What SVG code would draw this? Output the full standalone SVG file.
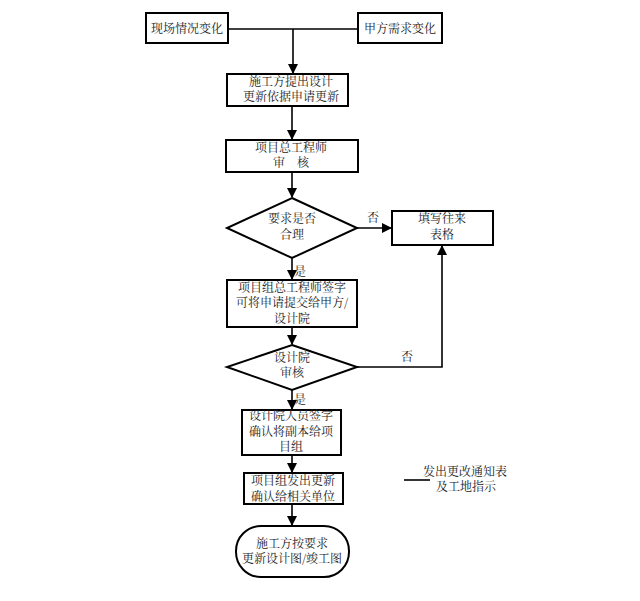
<svg xmlns="http://www.w3.org/2000/svg" width="640" height="601" viewBox="0 0 640 601">
<defs>
<marker id="ah" markerWidth="10" markerHeight="10" refX="9" refY="5" orient="auto" markerUnits="userSpaceOnUse">
<path d="M0,0 L10,5 L0,10 z" fill="#000"/>
</marker>
<style>
.n{fill:#fff;stroke:#000;stroke-width:2}
.c{fill:none;stroke:#000;stroke-width:1.6}
text{font-family:"Noto Serif CJK SC","Noto Sans CJK SC","Liberation Serif",serif;font-size:12px;fill:#222;text-anchor:middle}
</style>
</defs>
<rect width="640" height="601" fill="#fff"/>
<g id="connectors">
<path class="c" d="M228,29 H358"/>
<path class="c" d="M293,29 V73" marker-end="url(#ah)"/>
<path class="c" d="M292,106 V139" marker-end="url(#ah)"/>
<path class="c" d="M292,172 V197" marker-end="url(#ah)"/>
<path class="c" d="M357,228 H391" marker-end="url(#ah)"/>
<path class="c" d="M292,258 V279" marker-end="url(#ah)"/>
<path class="c" d="M292,327 V344" marker-end="url(#ah)"/>
<path class="c" d="M357,367 H442 V246" marker-end="url(#ah)"/>
<path class="c" d="M292,390 V409" marker-end="url(#ah)"/>
<path class="c" d="M292,455 V472" marker-end="url(#ah)"/>
<path class="c" d="M292,504 V525" marker-end="url(#ah)"/>
<text x="373" y="222">否</text>
<text x="300" y="276">是</text>
<text x="407" y="361">否</text>
<text x="300" y="404">是</text>
</g>
<g id="n1"><rect class="n" x="146" y="13" width="82" height="30"/><text x="187" y="33">现场情况变化</text></g>
<g id="n2"><rect class="n" x="358" y="13" width="84" height="30"/><text x="400" y="33">甲方需求变化</text></g>
<g id="n3"><rect class="n" x="227" y="74" width="121" height="32"/><text x="291" y="86">施工方提出设计</text><text x="291" y="101">更新依据申请更新</text></g>
<g id="n4"><rect class="n" x="226" y="140" width="132" height="32"/><text x="291" y="152">项目总工程师</text><text x="291" y="167">审　核</text></g>
<g id="n5"><polygon class="n" points="292,198 357,228 292,258 227,228"/><text x="292" y="223">要求是否</text><text x="292" y="239">合理</text></g>
<g id="n6"><rect class="n" x="392" y="211" width="101" height="34"/><text x="442" y="223">填写往来</text><text x="442" y="239">表格</text></g>
<g id="n7"><rect class="n" x="227" y="280" width="130" height="47"/><text x="292" y="292">项目组总工程师签字</text><text x="292" y="307">可将申请提交给甲方/</text><text x="292" y="323">设计院</text></g>
<g id="n8"><polygon class="n" points="292,345 357,367 292,390 227,367"/><text x="292" y="362">设计院</text><text x="292" y="377">审核</text></g>
<g id="n9"><rect class="n" x="242" y="410" width="99" height="45"/><text x="291" y="420">设计院人员签字</text><text x="291" y="436">确认将副本给项</text><text x="291" y="451">目组</text></g>
<g id="n10"><rect class="n" x="244" y="473" width="99" height="31"/><text x="293" y="485">项目组发出更新</text><text x="293" y="501">确认给相关单位</text></g>
<g id="n11"><rect class="n" x="236" y="526" width="113" height="51" rx="25" ry="25"/><text x="292" y="548">施工方按要求</text><text x="292" y="563">更新设计图/竣工图</text></g>
<g id="legend"><path class="c" d="M404,480 H430"/><text x="465" y="476">发出更改通知表</text><text x="466" y="491">及工地指示</text></g>
</svg>
